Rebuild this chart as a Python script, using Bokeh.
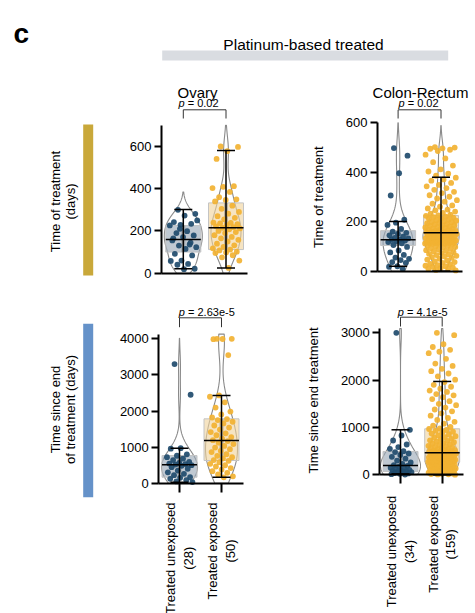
import numpy as np
from bokeh.plotting import figure
from bokeh.models import Range1d, LinearAxis, FixedTicker
from bokeh.core.properties import value
from bokeh.embed import file_html
from bokeh.resources import INLINE

FONT = "Liberation Sans"

# ---------------- data ----------------
groups = ["Treated unexposed", "Treated exposed"]
ovary_counts = [28, 50]
colon_counts = [34, 159]
tissues = ["Ovary", "Colon-Rectum"]
header = "Platinum-based treated"
row_titles = ["Time of treatment\n(days)", "Time since end\nof treatment (days)"]
right_ylabels = ["Time of treatment", "Time since end treatment"]
pvals_time = ["0.02", "0.02"]
pvals_since = ["2.63e-5", "4.1e-5"]

ticks_time_ovary = [0, 200, 400, 600]
ticks_time_colon = [0, 200, 400, 600]
ticks_since_ovary = [0, 1000, 2000, 3000, 4000]
ticks_since_colon = [0, 1000, 2000, 3000]

ovary_time_unexposed = [300, 281, 273, 242, 234, 229, 226, 199, 190, 179, 171, 155, 136, 131,
                        123, 115, 92, 84, 60, 58, 44, 40, 21, 19, 165, 145, 210, 250]
ovary_time_exposed = [600, 598, 578, 541, 412, 409, 403, 385, 360, 350, 347, 340, 320, 305,
                      290, 282, 270, 262, 255, 240, 238, 236, 232, 228, 222, 218, 215, 212,
                      208, 200, 195, 190, 180, 172, 165, 158, 150, 140, 132, 125, 118, 112,
                      108, 102, 98, 95, 85, 75, 60, 25]
colon_time_unexposed = [498, 467, 396, 306, 208, 196, 187, 171, 160, 155, 151, 145, 140, 135,
                        133, 128, 127, 124, 122, 118, 113, 106, 98, 84, 76, 66, 55, 50, 45,
                        37, 34, 20, 18, 10]
colon_time_exposed = [502, 500, 497, 495, 491, 486, 471, 456, 441, 427, 412, 403, 394, 386,
                      378, 371, 366, 357, 349, 343, 336, 329, 321, 316, 307, 301, 294, 287,
                      281, 273, 266, 261, 254, 249, 246, 241, 236, 233, 229, 226,
                      224, 221, 219, 217, 213, 212, 209, 206, 204, 201, 199, 198, 195, 193,
                      190, 189, 186, 185, 183, 180, 178, 177, 175, 172, 171, 169, 167, 166,
                      164, 163, 161, 160, 159, 158, 157, 156, 156, 155, 155, 154,
                      153, 152, 151, 150, 148, 147, 146, 145, 143, 142, 141, 140, 138, 137,
                      135, 134, 133, 131, 130, 129, 128, 126, 125, 124, 122, 121, 120, 119,
                      118, 117, 116, 115, 114, 113, 113, 112, 112, 111, 111,
                      110, 108, 105, 102, 100, 98, 96, 93, 90, 88, 85, 82, 80, 77, 74, 70,
                      68, 65, 62, 60, 57, 54, 50, 47, 44, 40, 37, 34, 30, 28, 25, 22, 20,
                      17, 15, 12, 10, 8, 5, 3]
ovary_since_unexposed = [3300, 2450, 970, 955, 800, 760, 720, 680, 640, 590, 560, 545, 530,
                         515, 500, 480, 445, 400, 350, 300, 260, 220, 165, 150, 120, 85, 50, 30]
ovary_since_exposed = [4000, 4000, 3995, 3990, 3550, 2430, 2395, 2240, 2095, 1985, 1905, 1820,
                       1775, 1748, 1702, 1655, 1598, 1541, 1486, 1417, 1382, 1328, 1277, 1234,
                       1191, 1168, 1121, 1083, 1032, 988, 943, 897, 862, 804, 757, 722, 684,
                       641, 619, 583, 538, 497, 462, 418, 377, 333, 288, 243, 191, 162]
colon_since_unexposed = [3000, 950, 830, 725, 640, 585, 550, 500, 480, 450, 420, 380, 340, 300,
                         260, 230, 205, 190, 170, 150, 135, 120, 105, 95, 85, 75, 65, 55, 45,
                         38, 30, 20, 12, 5]
colon_since_exposed = [3000, 2950, 2760, 2700, 2640, 2600, 2570, 2450, 2350, 2300, 2240, 2190,
                       2140, 2080, 2010,
                       1960, 1900, 1860, 1820, 1780, 1750, 1705, 1680, 1640, 1600, 1555, 1500,
                       1470, 1420, 1380, 1340, 1300, 1250, 1200, 1160, 1120, 1080, 1040, 1010, 980,
                       968, 947, 933, 910, 896, 870, 853, 831, 817, 796, 783, 761, 751, 729,
                       718, 700, 690, 669, 659, 641, 631, 613, 604, 588, 580, 564, 557, 542,
                       536, 523, 518, 505, 501, 490, 487, 477, 476, 469, 468, 465,
                       462, 454, 450, 441, 437, 428, 425, 416, 412, 403, 400, 391, 388, 380,
                       377, 367, 364, 356, 352, 343, 341, 331, 328, 320, 318, 309, 307, 299,
                       297, 290, 289, 282, 281, 276, 275, 271, 270, 268, 267,
                       263, 254, 249, 240, 236, 226, 221, 211, 207, 198, 193, 183, 179, 172,
                       162, 158, 149, 144, 133, 130, 121, 116, 107, 102, 92, 88, 79, 74, 64,
                       60, 51, 47, 37, 33, 27, 20, 17, 11, 8, 3]

# box statistics: [whisker low, q1, median, q3, whisker high]
ovary_time_box = [[21, 100, 160, 226, 302], [25, 112, 215, 333, 581]]
colon_time_box = [[20, 104, 127, 164, 201], [0, 111, 155, 225, 380]]
ovary_since_box = [[28, 166, 509, 767, 970], [166, 629, 1183, 1783, 2429]]
colon_since_box = [[20, 70, 197, 493, 951], [0, 267, 465, 972, 1972]]

# ---------------- styling / layout ----------------
COL_PTS = ["#1f4b6c", "#f2b232"]
COL_BOX = ["#9aa8b6", "#f0d49c"]
W, H = 475, 613
X0, Y0 = 0, 0  # canvas coordinates follow the page pixels

p = figure(width=W, height=H, x_range=Range1d(X0, X0 + W), y_range=Range1d(Y0 + H, Y0),
           min_border=0, toolbar_location=None, output_backend="svg",
           x_axis_type=None, y_axis_type=None, outline_line_color=None)
p.background_fill_color = "white"


def lin(a_px, a_val, b_px, b_val):
    k = (b_val - a_val) / (b_px - a_px)
    return lambda px: a_val + (px - a_px) * k


panels = [
    dict(name="tl", vals=(ovary_time_unexposed, ovary_time_exposed), box=ovary_time_box,
         ticks=ticks_time_ovary, ytop=700, cat_px=(182.8, 225.5), y0_px=272.7,
         yref=(600, 146.0), axis_px=(161.0, 246.7), violin_px=(19, 15), jitter_px=(14, 14),
         cat_ticks=False, counts=ovary_counts),
    dict(name="tr", vals=(colon_time_unexposed, colon_time_exposed), box=colon_time_box,
         ticks=ticks_time_colon, ytop=600, cat_px=(397.6, 440.5), y0_px=270.7,
         yref=(600, 122.3), axis_px=(377.0, 461.7), violin_px=(15, 18), jitter_px=(11, 16),
         cat_ticks=False, counts=colon_counts),
    dict(name="bl", vals=(ovary_since_unexposed, ovary_since_exposed), box=ovary_since_box,
         ticks=ticks_since_ovary, ytop=4130, cat_px=(179.0, 221.0), y0_px=482.7,
         yref=(4000, 338.3), axis_px=(158.3, 243.3), violin_px=(18, 16), jitter_px=(13, 12),
         cat_ticks=True, counts=ovary_counts),
    dict(name="br", vals=(colon_since_unexposed, colon_since_exposed), box=colon_since_box,
         ticks=ticks_since_colon, ytop=3090, cat_px=(400.0, 441.7), y0_px=474.3,
         yref=(3000, 332.3), axis_px=(379.3, 463.3), violin_px=(20, 17), jitter_px=(11, 14),
         cat_ticks=True, counts=colon_counts),
]

BOX_PX = 35
CAP_PX = 9
INNER_PX = 4

extra_x, extra_y = {}, {}
for pn in panels:
    c0, c1 = pn["cat_px"]
    xv = lin(c0, 0.0, c1, 1.0)
    yv = lin(pn["y0_px"], 0.0, pn["yref"][1], pn["yref"][0])
    extra_x[pn["name"] + "_x"] = Range1d(xv(X0), xv(X0 + W))
    extra_y[pn["name"] + "_y"] = Range1d(yv(Y0 + H), yv(Y0))
    pn["xv"] = xv
    pn["sx"] = c1 - c0
p.extra_x_ranges = extra_x
p.extra_y_ranges = extra_y


def kde(vals, ytop):
    v = np.asarray(vals, float)
    bw = v.std(ddof=1) * len(v) ** (-0.2)
    lo = max(0.0, v.min() - 2 * bw)
    hi = min(ytop, v.max() + 2 * bw)
    ys = np.linspace(lo, hi, 260)
    d = np.exp(-0.5 * ((ys[:, None] - v[None, :]) / bw) ** 2).sum(axis=1)
    return ys, d / d.max()


for pn in panels:
    kx, ky = pn["name"] + "_x", pn["name"] + "_y"
    sx = pn["sx"]
    rn = dict(x_range_name=kx, y_range_name=ky)
    # violins
    for g, vals in enumerate(pn["vals"]):
        ys, d = kde(vals, pn["ytop"])
        hw = d * pn["violin_px"][g] / sx
        xs = np.concatenate([g + hw, (g - hw)[::-1]])
        yy = np.concatenate([ys, ys[::-1]])
        p.patch(x=xs, y=yy, fill_color=None, line_color="#8a8a8a", line_width=1.1, **rn)
    box = pn["box"]
    hb = BOX_PX / 2 / sx
    cats = [0, 1]
    # boxes
    p.quad(left=[c - hb for c in cats], right=[c + hb for c in cats],
           bottom=[b[1] for b in box], top=[b[3] for b in box],
           fill_color=COL_BOX, fill_alpha=0.62, line_color="#c4c4c4", line_width=1, **rn)
    hi_ = INNER_PX / 2 / sx
    p.quad(left=[c - hi_ for c in cats], right=[c + hi_ for c in cats],
           bottom=[b[1] for b in box], top=[b[3] for b in box],
           fill_color="#8c8c8c", fill_alpha=0.55, line_color=None, **rn)
    # points
    for g, vals in enumerate(pn["vals"]):
        n = len(vals)
        u = (np.arange(n) * 0.6180339887 + 0.31) % 1.0
        xs = g + (u * 2 - 1) * pn["jitter_px"][g] / sx
        p.scatter(x=xs, y=vals, size=5.8, fill_color=COL_PTS[g], line_color=None,
                  fill_alpha=0.92, **rn)
    # whiskers, caps, medians
    hc = CAP_PX / sx
    p.segment(x0=cats, y0=[b[0] for b in box], x1=cats, y1=[b[4] for b in box],
              line_color="black", line_width=1.5, **rn)
    for j in (0, 4):
        p.segment(x0=[c - hc for c in cats], y0=[b[j] for b in box],
                  x1=[c + hc for c in cats], y1=[b[j] for b in box],
                  line_color="black", line_width=1.5, **rn)
    p.segment(x0=[c - hb for c in cats], y0=[b[2] for b in box],
              x1=[c + hb for c in cats], y1=[b[2] for b in box],
              line_color="black", line_width=1.5, **rn)
    # axes
    xv = pn["xv"]
    yax = LinearAxis(x_range_name=kx, y_range_name=ky, fixed_location=xv(pn["axis_px"][0]),
                     bounds=(0, pn["ytop"]), ticker=FixedTicker(ticks=pn["ticks"]),
                     axis_line_width=2, axis_line_color="black",
                     major_tick_line_width=2, major_tick_out=7, major_tick_in=0,
                     minor_tick_out=0, minor_tick_in=0,
                     major_label_text_font=FONT, major_label_text_font_size="13px",
                     major_label_text_color="black", major_label_standoff=3)
    p.add_layout(yax, "left")
    xax = LinearAxis(x_range_name=kx, y_range_name=ky, fixed_location=0,
                     bounds=(xv(pn["axis_px"][0]), xv(pn["axis_px"][1])),
                     ticker=FixedTicker(ticks=cats if pn["cat_ticks"] else []),
                     axis_line_width=2, axis_line_color="black",
                     major_tick_line_width=2, major_tick_out=9, major_tick_in=0,
                     minor_tick_out=0, minor_tick_in=0,
                     major_label_text_color=None)
    p.add_layout(xax, "below")

# ---------------- annotations ----------------
txt = dict(text_font=value(FONT), text_color="black")

p.text(x=[13], y=[33], text=["c"], text_font_size=value("28px"), text_font_style="bold",
       text_align="left", text_baseline="alphabetic", **txt)
p.text(x=[303], y=[43.5], text=[header], text_font_size=value("15.5px"),
       text_align="center", text_baseline="alphabetic", **txt)
p.quad(left=[161.7], right=[447.7], top=[50], bottom=[60], fill_color="#d9dce1", line_color=None)

p.text(x=[197, 420], y=[92.4, 92.4], text=tissues, text_font_size=value("15px"),
       text_align="center", text_baseline="alphabetic", **txt)

# side bars and row titles
p.quad(left=[82.7, 82.7], right=[92.7, 92.7], top=[124, 323.3], bottom=[275, 496.7],
       fill_color=["#c9a83a", "#6592c9"], line_color=None)
p.text(x=[62, 62], y=[201, 409], text=row_titles, angle=np.pi / 2,
       text_font_size=value("13px"), text_align="center", text_baseline="middle",
       text_line_height=1.0, **txt)
p.text(x=[318.3, 313.3], y=[196.7, 400], text=right_ylabels, angle=np.pi / 2,
       text_font_size=value("13px"), text_align="center", text_baseline="middle", **txt)

# p-values and brackets
pv_specs = [("tl", pvals_time[0], 178.0, 102.5, 109.3, 118.0),
            ("tr", pvals_time[1], 398.0, 102.5, 109.3, 118.0),
            ("bl", pvals_since[0], 178.3, 311.5, 317.3, 326.7),
            ("br", pvals_since[1], 397.3, 311.5, 316.7, 326.0)]
for name, pv, x_left, base, top_y, bot_y in pv_specs:
    p.text(x=[x_left], y=[base], text=["p"], text_font_size=value("11px"),
           text_font_style="italic", text_align="left", text_baseline="alphabetic", **txt)
    p.text(x=[x_left + 9.2], y=[base], text=["= " + pv], text_font_size=value("11px"),
           text_align="left", text_baseline="alphabetic", **txt)
    p.multi_line(xs=[[0, 0, 1, 1]], ys=[[bot_y, top_y, top_y, bot_y]], line_color="#333333",
                 line_width=1, x_range_name=name + "_x")

# category labels under the bottom panels
for name, counts, top in (("bl", ovary_counts, 501.7), ("br", colon_counts, 495.0)):
    labels = [f"{g}\n({n})" for g, n in zip(groups, counts)]
    half = [56.0, 48.8]
    p.text(x=[0, 1], y=[top + h for h in half], text=labels, angle=np.pi / 2,
           text_font_size=value("13px"), text_align="center", text_baseline="middle",
           text_line_height=1.15, x_range_name=name + "_x", **txt)

open("out.html", "w").write(file_html(p, INLINE))
